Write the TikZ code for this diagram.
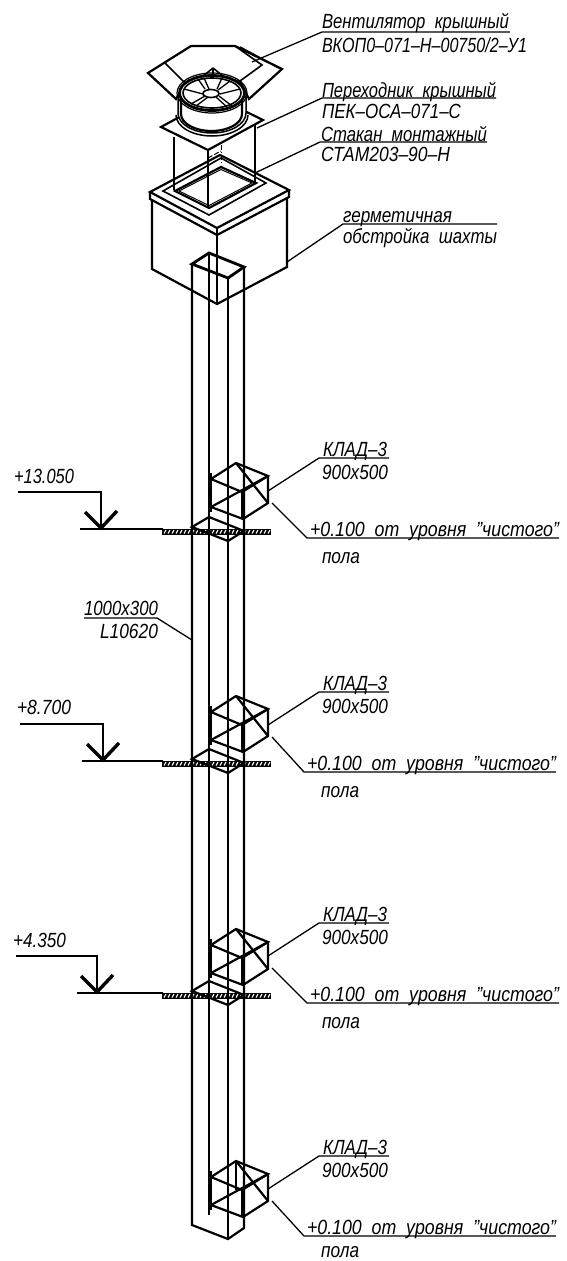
\documentclass[tikz,border=0pt]{standalone}
\usepackage{fontspec}
\usepackage{graphicx}
\setmainfont{Liberation Sans}[ItalicFont={Liberation Sans Italic}]
\newcommand{\cadt}[2]{\resizebox{#1pt}{\height}{\itshape #2}}
\tikzset{
  cadtext/.style={anchor=base west,inner sep=0pt,outer sep=0pt,font=\fontsize{20.5}{20.5}\selectfont},
  leader/.style={line width=1.3pt,black},
  thin edge/.style={line width=1.6pt,black,line join=miter},
  edge/.style={line width=2.2pt,black,line join=miter},
  heavy/.style={line width=2.8pt,black,line join=miter},
}
\begin{document}
\begin{tikzpicture}[x=1pt,y=-1pt]
\useasboundingbox (0,0) rectangle (566,1261);
% ---- shaft enclosure box
\draw[edge] (150,192) -- (220,155) -- (289,190) -- (217,228) -- cycle;
\draw[edge] (150,192) -- (150,199) -- (217,235) -- (289,197) -- (289,190);
\draw[edge] (217,228) -- (217,235);
\draw[edge] (152,199) -- (152,269) -- (217,304) -- (287,267) -- (287,197);
\draw[edge] (217,235) -- (217,304);
% opening
\draw[thin edge] (163,191) -- (221,158) -- (266,183) -- (209,215) -- cycle;
\draw[edge] (175,191) -- (221,167) -- (256,183) -- (209,208) -- cycle;
\draw[line width=1pt] (179,191) -- (221,169.5) -- (252,183) -- (209,205.5) -- cycle;
% mounting sleeve
\draw[edge] (174,137) -- (174,190);
\draw[edge] (208,150) -- (208,208);
\draw[edge] (255,124) -- (255,183);
\draw[line width=1pt,dash pattern=on 5pt off 2pt on 1pt off 2pt] (221,145) -- (221,165);
\draw[line width=1pt,dash pattern=on 5pt off 2pt] (208,158) -- (221,151);
% adapter plate
\draw[edge,fill=white] (161,127) -- (216,97) -- (263,120) -- (208,150) -- cycle;
% roof fan hood
\draw[edge,fill=white] (191,46) -- (235,46) -- (282,69) -- (249,99) -- (240,81) -- (185,83) -- (176,99) -- (148,73) -- cycle;
\draw[thin edge] (165,63) -- (185,83);
\draw[thin edge] (235,46) -- (262,65) -- (240,81);
\draw[thin edge] (240,47) -- (279,68);
% fan: flange, body, rim
\draw[line width=1.5pt] (176,115) arc[start angle=180,end angle=0,x radius=36,y radius=21];
\draw[line width=1.5pt,fill=white] (178,113) arc[start angle=180,end angle=0,x radius=34,y radius=20] -- (246,96) -- (178,96) -- cycle;
\draw[edge,fill=white] (181,97) -- (181,114) arc[start angle=180,end angle=0,x radius=30.5,y radius=17] -- (242,97) -- cycle;
\draw[thin edge] (213,68) -- (202,77);
\draw[thin edge] (213,68) -- (223,76);
\draw[thin edge] (213,68) -- (213,75);
\draw[line width=1.2pt] (212,93) ellipse[x radius=35,y radius=20];
\draw[heavy,fill=white] (212,93) ellipse[x radius=32.5,y radius=17.5];
\draw[thin edge] (212,93) ellipse[x radius=29,y radius=15];
\foreach \a/\b/\c/\d in {
  205/89/198/79, 209/89/204/78,
  217/89/222/78, 218/90/230/81,
  220/94/240/89, 203/94/184/89,
  205/96/191/104, 208/97/196/106,
  216/97/227/107, 219/96/232/106}{
  \draw[line width=1.3pt] (\a,\b) -- (\c,\d);
}
\draw[thin edge,fill=white] (211,93.5) ellipse[x radius=8,y radius=4];
% ---- floor slabs (drawn beneath the duct)
\foreach \dy in {0,232,464}{
  \begin{scope}[yshift=-\dy pt]
  \fill[black] (162,529) rectangle (271,534.5);
  \foreach \h in {164,168,...,270}{
    \draw[white,line width=1.1pt] (\h,533.5) -- (\h+2,530);
  }
  \end{scope}
}
% ---- duct
\draw[edge] (192,264) -- (192,1225) -- (228,1239) -- (244,1228) -- (244,267);
\draw[edge] (228,278) -- (228,1239);
\draw[edge] (209,253) -- (209,1215);
\draw[heavy] (192,264) -- (209,253) -- (244,267) -- (228,278) -- cycle;
% ---- valves
\foreach \dy in {0,233,466,698}{
  \begin{scope}[yshift=-\dy pt]
  \draw[edge] (236,463) -- (268,476) -- (242,492) -- (211,479) -- cycle;
  \draw[edge] (211,507) -- (243,519) -- (268,503) -- (268,476);
  \draw[edge] (211,507) -- (268,476);
  \draw[edge] (236,463) -- (268,503);
  \draw[heavy] (211,473) -- (211,512);
  \draw[line width=3.4pt] (243,491) -- (243,519);
  \end{scope}
}
\draw[edge] (236,1161) -- (236,1190);
% ---- floor rhombi
\foreach \dy in {0,232,464}{
  \begin{scope}[yshift=-\dy pt]
  \draw[edge] (209,517) -- (192,527) -- (228,541) -- (244,531) -- cycle;
  \end{scope}
}
% ---- section marks
\foreach \i/\txt/\w/\tx/\ty/\sl/\sr/\vy/\bl in {
  a/{+13.050}/60/14/483/18/101/528/80,
  b/{+8.700}/54/17/714/20/103/760/82,
  c/{+4.350}/53/13/947/16/97/992/77}{
  \node[cadtext] (lev\i) at (\tx,\ty) {\cadt{\w}{\txt}};
  \coordinate (ls\i) at (\sl,\vy-36);
  \coordinate (lc\i) at (\sr,\vy-36);
  \coordinate (lt\i) at (\sr,\vy);
  \coordinate (ll\i) at (\sr-16,\vy-16);
  \coordinate (lr\i) at (\sr+16,\vy-17);
  \coordinate (bs\i) at (\bl,\vy+1);
  \coordinate (be\i) at (163,\vy+1);
  \draw[leader] (ls\i) -- (lc\i) -- (lt\i);
  \draw[line width=3.4pt] (ll\i) -- (lt\i) -- (lr\i);
  \draw[line width=1.6pt] (bs\i) -- (be\i);
}
% ---- module labels
\foreach \i/\dy/\dx/\pd in {a/0/0/0,b/234/-3/0,c/465/0/0,d/698/-3/-4}{
  \node[cadtext] (kl\i) at (323,456+\dy) {\cadt{64}{КЛАД–3}};
  \node[cadtext] (sz\i) at (322,479+\dy) {\cadt{66}{900x500}};
  \node[cadtext] (lv\i) at (310+\dx,536.5+\dy) {\cadt{249}{+0.100~~от~~уровня~~"чистого"}};
  \node[cadtext] (pl\i) at (322+\dx*0.3,563+\dy+\pd) {\cadt{38}{пола}};
  \coordinate (ka\i) at (268,491+\dy);
  \coordinate (kb\i) at (319,458+\dy);
  \coordinate (kc\i) at (389,458+\dy);
  \coordinate (ma\i) at (272,503+\dy);
  \coordinate (mb\i) at (307+\dx,538+\dy);
  \coordinate (mc\i) at (559+\dx,538+\dy);
  \draw[leader] (ka\i) -- (kb\i) -- (kc\i);
  \draw[leader] (ma\i) -- (mb\i) -- (mc\i);
}
% ---- top labels
\node[cadtext] (t1) at (322,28) {\cadt{187}{Вентилятор~~крышный}};
\node[cadtext] (t2) at (322,52.5) {\cadt{205}{ВКОП0–071–Н–00750/2–У1}};
\node[cadtext] (t3) at (322,97) {\cadt{174}{Переходник~~крышный}};
\node[cadtext] (t4) at (322,118) {\cadt{139}{ПЕК–ОСА–071–С}};
\node[cadtext] (t5) at (321,141) {\cadt{166}{Стакан~~монтажный}};
\node[cadtext] (t6) at (321,161.5) {\cadt{129}{СТАМ203–90–Н}};
\node[cadtext] (t7) at (343,222) {\cadt{109}{герметичная}};
\node[cadtext] (t8) at (343,243) {\cadt{154}{обстройка~~шахты}};
\coordinate (a1) at (252,62);  \coordinate (b1) at (322,32);  \coordinate (c1) at (510,32);
\coordinate (a3) at (257,128); \coordinate (b3) at (322,98);  \coordinate (c3) at (496,98);
\coordinate (a5) at (255,173); \coordinate (b5) at (320,142); \coordinate (c5) at (487,142);
\coordinate (a7) at (287,262); \coordinate (b7) at (343,224); \coordinate (c7) at (497,224);
\draw[leader] (a1) -- (b1) -- (c1);
\draw[leader] (a3) -- (b3) -- (c3);
\draw[leader] (a5) -- (b5) -- (c5);
\draw[leader] (a7) -- (b7) -- (c7);
% ---- duct label
\node[cadtext] (d1) at (84,615) {\cadt{74}{1000x300}};
\node[cadtext] (d2) at (100,638) {\cadt{58}{L10620}};
\coordinate (da) at (192,640); \coordinate (db) at (157,618); \coordinate (dc) at (84,618);
\draw[leader] (da) -- (db) -- (dc);
\end{tikzpicture}
\end{document}
